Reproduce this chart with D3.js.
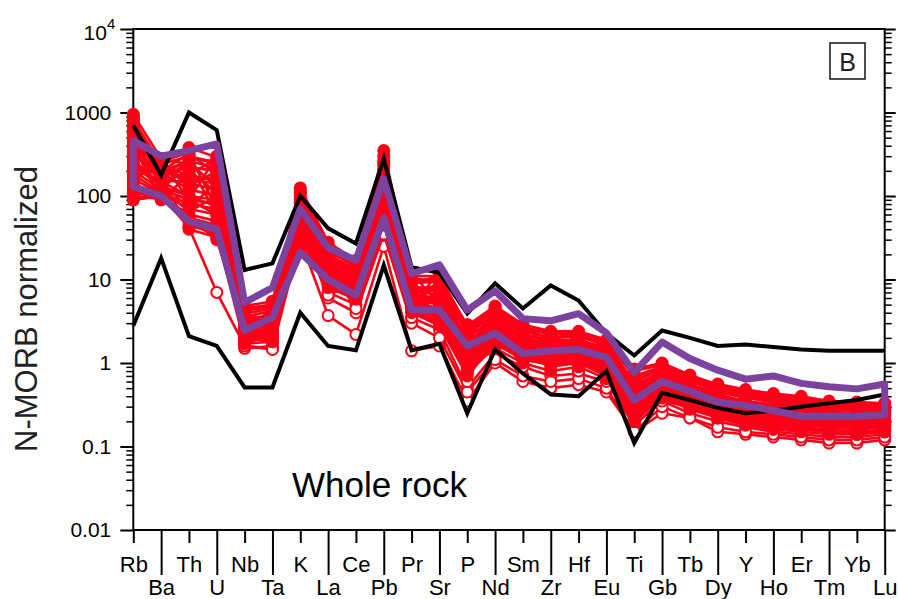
<!DOCTYPE html>
<html><head><meta charset="utf-8">
<script src="https://cdn.jsdelivr.net/npm/d3@7"></script>
<style>
html,body{margin:0;padding:0;background:#fff;}
svg{display:block;font-family:"Liberation Sans",Arial,Helvetica,sans-serif;}
</style></head><body>
<svg id="chart" width="898" height="599"></svg>
<script>
// ---------- data ----------
const categories = ["Rb","Ba","Th","U","Nb","Ta","K","La","Ce","Pb","Pr","Sr","P","Nd","Sm","Zr","Hf","Eu","Ti","Gb","Tb","Dy","Y","Ho","Er","Tm","Yb","Lu"];
const yTickValues = [0.01, 0.1, 1, 10, 100, 1000, 10000];
const yTickLabels = ["0.01", "0.1", "1", "10", "100", "1000", "10"];

const blackUpper = [700,178,1000,615,13,15.6,100,41,27,280,14,12,3.9,9,4.5,8.5,5.6,2.26,1.23,2.45,2.0,1.6,1.67,1.55,1.45,1.4,1.4,1.4];
const blackLower = [2.8,18,2.1,1.6,0.51,0.51,4.0,1.6,1.42,14.8,1.42,1.7,0.25,1.45,0.75,0.42,0.4,0.8,0.11,0.44,0.36,0.29,0.25,0.27,0.3,0.33,0.36,0.42];
const purpleUpper = [460,300,350,420,5.3,8,70,24,17,160,11.8,15,4.3,7.3,3.4,3.2,3.9,2.3,0.77,1.78,1.13,0.82,0.64,0.70,0.57,0.52,0.49,0.56];
const purpleLower = [130,100,50,40,2.45,3.5,21,10,6.5,55,4.3,4.3,1.6,2.26,1.3,1.4,1.45,1.17,0.36,0.6,0.46,0.34,0.31,0.27,0.23,0.23,0.23,0.24];

const sample01 = [950,280,380,290,4.8,5.5,125,28,17,350,11,11,2.8,4.8,2.9,2.4,2.4,1.9,0.85,1.0,0.72,0.55,0.45,0.42,0.38,0.34,0.33,0.32];
const sample02 = [820,240,300,250,4.2,4.8,110,25,15,250,10,10,2.4,4.2,2.6,2.2,2.2,1.7,0.7,0.9,0.65,0.5,0.42,0.38,0.35,0.32,0.31,0.3];
const sample03 = [700,200,260,220,3.9,4.5,95,22,14,220,9,9.5,2.2,3.8,2.4,2.0,2.1,1.6,0.6,0.85,0.6,0.47,0.4,0.36,0.33,0.3,0.3,0.3];
const sample04 = [600,260,330,180,3.6,4.2,80,20,13,200,8.5,7,2.0,3.5,2.2,1.9,1.9,1.5,0.55,0.8,0.55,0.45,0.38,0.34,0.31,0.29,0.28,0.28];
const sample05 = [500,180,220,200,3.3,3.8,70,18,12,170,8,8,1.8,3.3,2.0,1.7,1.8,1.4,0.5,0.75,0.52,0.42,0.35,0.32,0.3,0.27,0.27,0.27];
const sample06 = [420,220,180,150,3.1,3.5,65,17,11,150,7.5,6.5,1.7,3.0,1.9,1.6,1.7,1.3,0.45,0.7,0.5,0.4,0.33,0.3,0.28,0.26,0.25,0.26];
const sample07 = [380,160,250,130,2.9,3.3,60,16,10,130,7,7.5,1.6,2.9,1.8,1.5,1.6,1.25,0.42,0.65,0.47,0.38,0.32,0.29,0.27,0.25,0.24,0.25];
const sample08 = [330,150,150,170,2.8,3.1,55,15,9.5,120,6.5,6,1.5,2.7,1.7,1.45,1.5,1.2,0.4,0.62,0.45,0.36,0.3,0.27,0.25,0.23,0.23,0.24];
const sample09 = [300,190,120,100,2.6,3.0,50,14,9,110,6,5.5,1.4,2.6,1.6,1.4,1.45,1.15,0.38,0.6,0.43,0.34,0.29,0.26,0.24,0.22,0.22,0.23];
const sample10 = [260,140,200,110,2.5,2.8,48,13,8.5,100,5.8,5,1.3,2.5,1.5,1.35,1.4,1.1,0.35,0.57,0.41,0.32,0.27,0.25,0.23,0.21,0.21,0.22];
const sample11 = [230,130,100,90,2.4,2.6,45,12,8,90,5.5,4.5,1.2,2.4,1.45,1.3,1.35,1.05,0.33,0.55,0.4,0.3,0.26,0.24,0.22,0.2,0.2,0.21];
const sample12 = [200,120,90,80,2.3,2.5,42,11,7.5,80,5.2,4.2,1.1,2.3,1.4,1.25,1.3,1.0,0.3,0.52,0.38,0.29,0.25,0.23,0.21,0.19,0.19,0.2];
const sample13 = [180,110,80,70,2.2,2.4,40,10.5,7,70,5,4,1.0,2.2,1.35,1.2,1.25,0.95,0.28,0.5,0.36,0.28,0.24,0.22,0.2,0.18,0.18,0.19];
const sample14 = [160,105,70,60,2.1,2.3,38,10,6.8,65,4.8,3.8,0.95,2.1,1.3,1.15,1.2,0.9,0.26,0.48,0.35,0.27,0.23,0.21,0.19,0.18,0.17,0.18];
const sample15 = [140,100,60,50,2.0,2.2,36,9.5,6.5,60,4.6,3.5,0.9,2.0,1.25,1.1,1.15,0.85,0.25,0.46,0.33,0.26,0.22,0.2,0.18,0.17,0.17,0.18];
const sample16 = [120,95,55,45,1.9,2.1,34,9,6.2,55,4.4,3.2,0.8,1.9,1.2,1.05,1.1,0.8,0.23,0.44,0.32,0.25,0.21,0.19,0.17,0.16,0.16,0.17];
const sample17 = [100,92,50,40,1.8,2.0,32,8.5,6,50,4.2,3,0.75,1.8,1.15,1.0,1.05,0.75,0.22,0.42,0.31,0.24,0.2,0.18,0.17,0.15,0.15,0.16];
const sample18 = [90,100,45,35,1.7,1.8,31,8,5.8,45,4,2.8,0.7,1.7,1.1,0.95,1.0,0.7,0.2,0.4,0.3,0.23,0.19,0.17,0.16,0.15,0.14,0.15];
const sample19 = [90,100,42,7,1.6,1.5,30,3.7,2.2,25,1.4,1.6,0.35,1.0,0.6,0.5,0.55,0.45,0.15,0.25,0.22,0.15,0.14,0.13,0.12,0.11,0.11,0.12];
const sample20 = [650,170,280,260,4.5,5.0,120,26,16,300,10.5,9,2.6,4.5,2.7,2.3,2.3,1.8,0.8,0.95,0.7,0.52,0.45,0.4,0.36,0.33,0.32,0.3];
const sample21 = [550,230,140,120,2.0,1.8,85,12,8,160,4.5,6,1.0,1.8,1.3,0.9,1.0,0.9,0.28,0.45,0.35,0.28,0.24,0.22,0.2,0.19,0.19,0.2];
const sample22 = [130,110,300,240,3.5,2.5,40,20,12,80,8,3.5,2.5,3.6,2.2,1.8,1.9,1.4,0.55,0.7,0.5,0.4,0.33,0.3,0.27,0.25,0.24,0.25];
const sample23 = [450,150,100,75,1.5,1.6,100,7,5,40,3.5,2.5,0.5,1.3,0.9,0.7,0.75,0.6,0.18,0.35,0.25,0.2,0.17,0.15,0.14,0.13,0.13,0.14];
const sample24 = [280,125,65,100,1.6,1.45,45,6,4,35,3,2,0.45,1.1,0.7,0.6,0.65,0.5,0.15,0.3,0.22,0.17,0.15,0.14,0.13,0.12,0.12,0.13];
const sample25 = [110,95,55,30,2.6,3.2,25,9,6,180,6.5,9,1.8,2.2,1.6,1.3,1.3,1.2,0.4,0.55,0.4,0.3,0.26,0.24,0.22,0.21,0.2,0.21];
const sample26 = [850,210,160,140,3.0,3.6,75,16,10,240,9,11,2.2,3.0,1.8,1.6,1.7,1.3,0.5,0.65,0.5,0.38,0.3,0.28,0.26,0.25,0.25,0.27];
const sample27 = [350,260,90,60,2.2,1.9,35,11,7,60,5,4,0.8,1.5,1.0,0.8,0.9,0.65,0.2,0.38,0.28,0.22,0.18,0.16,0.15,0.14,0.14,0.15];
const sample28 = [240,170,40,32,2.7,3.8,90,24,14,130,7,5,1.2,4.0,2.5,2.0,2.2,1.6,0.6,0.9,0.68,0.56,0.48,0.43,0.4,0.35,0.34,0.33];
const sample29 = [780,120,90,300,3.8,2.8,55,22,10,90,12,5,2.9,3.2,2.8,1.5,2.0,1.0,0.7,0.8,0.6,0.48,0.42,0.4,0.36,0.33,0.3,0.29];
const sample30 = [150,280,240,60,2.4,4.5,110,9,12,260,5,12,1.4,4.6,1.4,2.3,1.3,1.8,0.3,0.95,0.62,0.5,0.42,0.37,0.33,0.3,0.29,0.28];
const sample31 = [400,90,180,280,1.8,2.2,28,14,4.5,50,7.5,3,2.2,1.6,2.1,1.0,1.8,0.6,0.5,0.35,0.3,0.22,0.2,0.17,0.16,0.15,0.15,0.15];
const sample32 = [210,200,320,70,3.2,2.0,70,6.5,9,140,3.5,7,0.6,2.8,0.9,1.9,0.8,1.5,0.2,0.7,0.5,0.4,0.33,0.3,0.27,0.25,0.24,0.24];
const sample33 = [900,150,70,150,2.9,4.0,40,18,6,200,9.5,4.5,1.6,3.9,1.5,2.1,1.2,1.5,0.45,0.6,0.42,0.33,0.28,0.25,0.23,0.21,0.2,0.2];
const sample34 = [170,240,130,200,4.0,3.0,90,12,14,70,6,8,1.1,2.0,2.5,1.2,2.3,0.9,0.65,0.5,0.37,0.28,0.24,0.21,0.19,0.17,0.17,0.17];
const openSamples = [sample02,sample19,sample23,sample24,sample26,sample31,sample32];
const filledSamples = [sample01,sample03,sample04,sample05,sample06,sample07,sample08,sample09,sample10,
  sample11,sample12,sample13,sample14,sample15,sample16,sample17,sample18,sample20,
  sample21,sample22,sample25,sample27,sample28,sample29,sample30,sample33,sample34];

// ---------- drawing ----------
const RED = "#fc0018", PURPLE = "#7b439d";
const L = 133.3, R = 884.7, T = 29, B = 530;
const svg = d3.select("#chart");
const x = d3.scalePoint().domain(categories).range([L, R]);
const y = d3.scaleLog().domain([0.01, 10000]).range([B, T]);

const minorTicks = [];
for (let e = -2; e < 4; e++) for (let m = 2; m <= 9; m++) minorTicks.push(m * Math.pow(10, e));

// frame
svg.append("rect").attr("x", L).attr("y", T).attr("width", R - L).attr("height", B - T)
  .attr("fill", "none").attr("stroke", "#000").attr("stroke-width", 2);

// left axis
const leftMajor = svg.append("g").attr("transform", `translate(${L},0)`)
  .call(d3.axisLeft(y).tickValues(yTickValues).tickSize(13).tickSizeOuter(0).tickPadding(9)
    .tickFormat((d, i) => yTickLabels[i]));
leftMajor.select(".domain").remove();
leftMajor.selectAll("line").attr("stroke", "#000").attr("stroke-width", 2);
leftMajor.selectAll("text").attr("font-size", 21).attr("fill", "#000")
  .attr("font-family", '"Liberation Sans",Arial,sans-serif');
leftMajor.selectAll(".tick").filter(d => d === 10000).select("text")
  .attr("x", -18).attr("dy", "0.5em")
  .append("tspan").attr("font-size", 15).attr("dy", "-0.75em").text("4");

const leftMinor = svg.append("g").attr("transform", `translate(${L},0)`)
  .call(d3.axisLeft(y).tickValues(minorTicks).tickSize(7).tickSizeOuter(0).tickFormat(""));
leftMinor.select(".domain").remove();
leftMinor.selectAll("line").attr("stroke", "#000").attr("stroke-width", 1.5);

// right axis
const rightMajor = svg.append("g").attr("transform", `translate(${R},0)`)
  .call(d3.axisRight(y).tickValues(yTickValues).tickSize(11).tickSizeOuter(0).tickFormat(""));
rightMajor.select(".domain").remove();
rightMajor.selectAll("line").attr("stroke", "#000").attr("stroke-width", 2);
const rightMinor = svg.append("g").attr("transform", `translate(${R},0)`)
  .call(d3.axisRight(y).tickValues(minorTicks).tickSize(7).tickSizeOuter(0).tickFormat(""));
rightMinor.select(".domain").remove();
rightMinor.selectAll("line").attr("stroke", "#000").attr("stroke-width", 1.5);

// bottom axis
const bottom = svg.append("g").attr("transform", `translate(0,${B})`)
  .call(d3.axisBottom(x).tickSize(13).tickSizeOuter(0));
bottom.select(".domain").remove();
bottom.selectAll(".tick line").attr("stroke", "#000").attr("stroke-width", 2)
  .attr("y2", (d, i) => i % 2 ? 45 : 13);
bottom.selectAll(".tick text").attr("font-size", 22).attr("fill", "#000")
  .attr("font-family", '"Liberation Sans",Arial,sans-serif')
  .attr("dy", null).attr("y", (d, i) => i % 2 ? 65 : 42);

// y label
svg.append("text").attr("transform", "translate(37,309) rotate(-90)")
  .attr("text-anchor", "middle").attr("font-size", 31).attr("fill", "#222")
  .text("N-MORB normalized");

// red samples: open-circle samples first, filled ones over them
const line = d3.line().x((d, i) => x(categories[i])).y(d => y(d));
const gRed = svg.append("g");
function drawSample(s, open) {
  const g = gRed.append("g");
  g.append("path").datum(s).attr("d", line).attr("fill", "none")
    .attr("stroke", RED).attr("stroke-width", 2.6).attr("stroke-linejoin", "round");
  g.selectAll("circle").data(s).enter().append("circle")
    .attr("cx", (d, i) => x(categories[i])).attr("cy", d => y(d)).attr("r", 5.5)
    .attr("fill", open ? "#fff" : RED).attr("stroke", RED).attr("stroke-width", 2);
}
openSamples.forEach(s => drawSample(s, true));
filledSamples.forEach(s => drawSample(s, false));

// black envelope lines
[blackUpper, blackLower].forEach(s => {
  svg.append("path").datum(s).attr("d", line).attr("fill", "none")
    .attr("stroke", "#000").attr("stroke-width", 4).attr("stroke-linejoin", "miter");
});

// purple closed envelope
const purplePts = purpleUpper.map((v, i) => [x(categories[i]), y(v)])
  .concat(purpleLower.map((v, i) => [x(categories[i]), y(v)]).reverse());
svg.append("path").attr("d", d3.line().curve(d3.curveLinearClosed)(purplePts))
  .attr("fill", "none").attr("stroke", PURPLE).attr("stroke-width", 7).attr("stroke-linejoin", "round");

// annotations
svg.append("text").attr("x", 292).attr("y", 497).attr("font-size", 35).attr("fill", "#000").text("Whole rock");
svg.append("rect").attr("x", 830).attr("y", 43).attr("width", 35).attr("height", 36)
  .attr("fill", "#fff").attr("stroke", "#222").attr("stroke-width", 1.6);
svg.append("text").attr("x", 847.5).attr("y", 71).attr("text-anchor", "middle")
  .attr("font-size", 25).attr("fill", "#222").text("B");
</script>
</body></html>
